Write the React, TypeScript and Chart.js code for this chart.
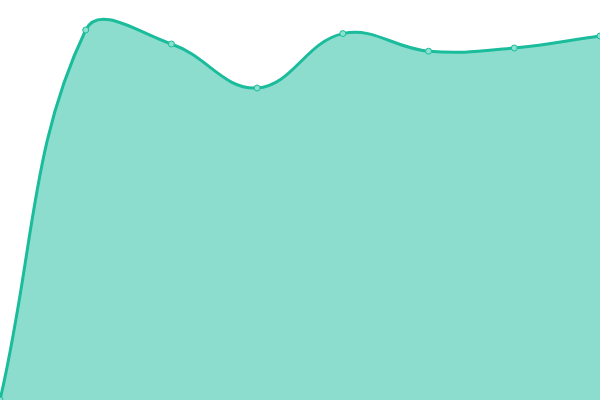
import React, { useRef, useEffect } from "react";
import { Chart, registerables } from "chart.js";

Chart.register(...registerables);

const labels = ["1", "2", "3", "4", "5", "6", "7", "8"];
const values = [0, 92.5, 89, 78, 91.6, 87.2, 88, 91];

const AreaChart: React.FC = () => {
  const chartRef = useRef<HTMLCanvasElement>(null);
  const chartInstanceRef = useRef<Chart | null>(null);

  useEffect(() => {
    document.body.style.margin = "0";
    const ctx = chartRef.current?.getContext("2d");
    if (!ctx) return;

    if (chartInstanceRef.current) {
      chartInstanceRef.current.destroy();
    }

    chartInstanceRef.current = new Chart(ctx, {
      type: "line",
      data: {
        labels,
        datasets: [
          {
            data: values,
            fill: true,
            backgroundColor: "rgba(26, 188, 156, 0.5)",
            borderColor: "#1abc9c",
            borderWidth: 3,
            tension: 0.4,
            pointRadius: 3,
            pointBorderWidth: 1,
            pointBackgroundColor: "#8ce0cf",
            pointBorderColor: "#1abc9c",
          },
        ],
      },
      options: {
        animation: false,
        responsive: true,
        maintainAspectRatio: false,
        layout: { padding: 0, autoPadding: false },
        plugins: {
          legend: { display: false },
          tooltip: { enabled: false },
        },
        scales: {
          x: { display: false },
          y: { display: false, min: 0, max: 100 },
        },
      },
    });

    return () => {
      if (chartInstanceRef.current) {
        chartInstanceRef.current.destroy();
        chartInstanceRef.current = null;
      }
    };
  }, []);

  return (
    <div style={{ width: 600, height: 400, position: "relative" }}>
      <canvas ref={chartRef} />
    </div>
  );
};

export default function App() {
  return <AreaChart />;
}
